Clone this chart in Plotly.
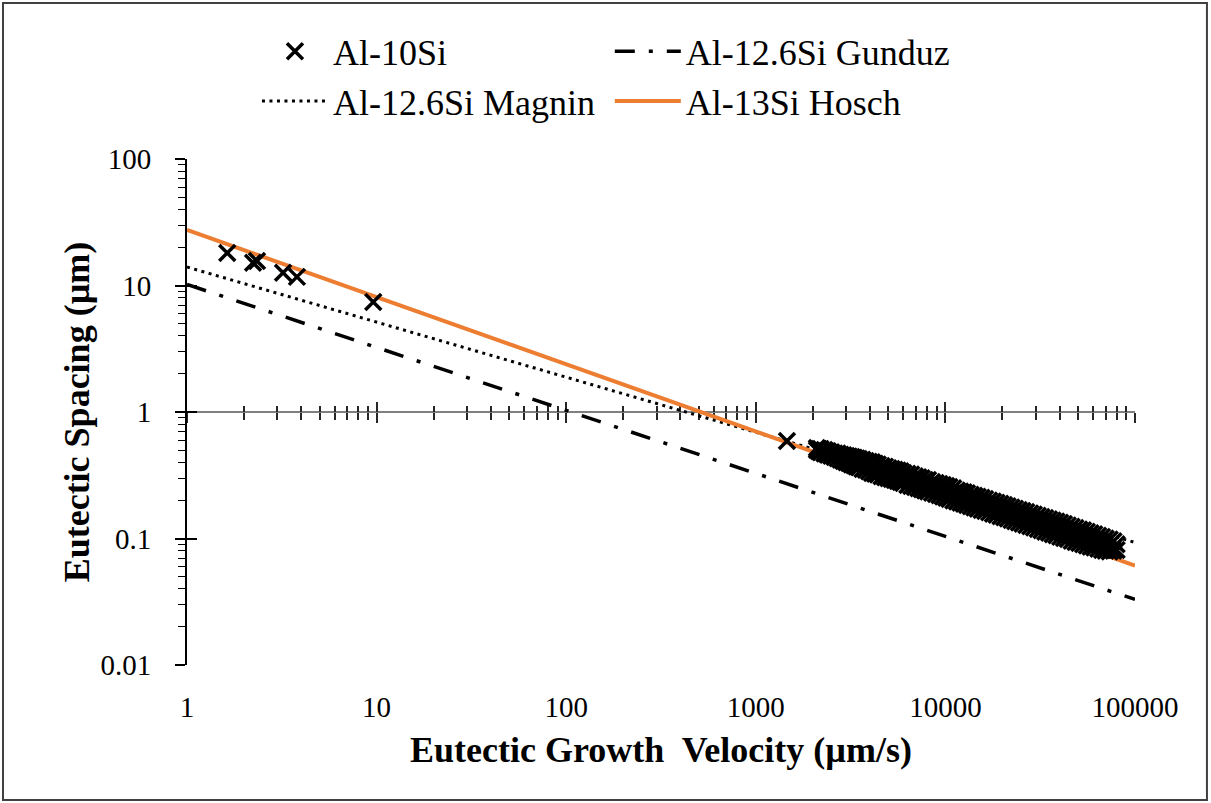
import plotly.graph_objects as go

# ---------------- data ----------------
# Al-10Si measured points (low-velocity region)
al10_v_low = [1.63, 2.23, 2.34, 3.21, 3.8, 9.6, 1460]
al10_lam_low = [18.1, 15.1, 15.6, 12.6, 11.7, 7.4, 0.59]

# Al-10Si measured points (high-velocity cloud)
al10_v_cloud = [2100, 2150, 2200, 2300, 2350, 2400, 2500, 2600, 2700, 2800,
                2900, 3000, 3100, 3200, 3300, 3400, 3500, 3650, 3800, 3950,
                4100, 4250, 4400, 4600, 4800, 5000, 5200, 5400, 5600, 5800,
                6000, 6300, 6600, 6900, 7200, 7500, 7800, 8100, 8500, 8900,
                9300, 9700, 10100, 10500, 11000, 11500, 12000, 12500, 13000, 13600,
                14200, 14800, 15500, 16200, 17000, 17800, 18600, 19500, 20400, 21300,
                22300, 23300, 24400, 25500, 26700, 28000, 29300, 30700, 32100, 33600,
                35200, 36800, 38500, 40300, 42200, 44200, 46300, 48500, 50800, 53200,
                55700, 58300, 61000, 64000, 67000, 70000, 73500, 77000, 80000]
al10_lam_cloud_upper = [0.52, 0.51, 0.51, 0.50, 0.49, 0.49, 0.48, 0.47, 0.47, 0.46,
                        0.455, 0.45, 0.445, 0.44, 0.435, 0.43, 0.425, 0.42, 0.41, 0.405,
                        0.40, 0.39, 0.385, 0.375, 0.37, 0.36, 0.355, 0.35, 0.345, 0.34,
                        0.33, 0.325, 0.32, 0.31, 0.305, 0.30, 0.29, 0.29, 0.28, 0.275,
                        0.27, 0.265, 0.26, 0.255, 0.25, 0.24, 0.235, 0.232, 0.228, 0.222,
                        0.218, 0.214, 0.21, 0.205, 0.20, 0.196, 0.192, 0.188, 0.184, 0.18,
                        0.176, 0.172, 0.168, 0.165, 0.162, 0.158, 0.155, 0.151, 0.148, 0.145,
                        0.142, 0.139, 0.136, 0.133, 0.130, 0.127, 0.124, 0.121, 0.118, 0.116,
                        0.113, 0.110, 0.108, 0.105, 0.103, 0.100, 0.098, 0.095, 0.090]
al10_lam_cloud_lower = [0.50, 0.49, 0.48, 0.47, 0.47, 0.46, 0.45, 0.44, 0.43, 0.42,
                        0.41, 0.40, 0.395, 0.385, 0.38, 0.37, 0.365, 0.355, 0.35, 0.34,
                        0.33, 0.325, 0.32, 0.31, 0.305, 0.30, 0.295, 0.29, 0.285, 0.28,
                        0.275, 0.265, 0.26, 0.255, 0.25, 0.245, 0.24, 0.235, 0.23, 0.225,
                        0.22, 0.215, 0.21, 0.205, 0.20, 0.196, 0.192, 0.188, 0.184, 0.18,
                        0.176, 0.172, 0.168, 0.165, 0.161, 0.157, 0.154, 0.150, 0.147, 0.144,
                        0.140, 0.137, 0.134, 0.131, 0.128, 0.125, 0.122, 0.119, 0.116, 0.113,
                        0.111, 0.108, 0.106, 0.103, 0.101, 0.099, 0.096, 0.094, 0.092, 0.090,
                        0.088, 0.086, 0.085, 0.083, 0.081, 0.080, 0.079, 0.080, 0.081]

# model lines (end points)
gunduz_v = [1, 100000]
gunduz_lam = [10.2, 0.033]
magnin_v = [1, 100000]
magnin_lam = [14.0, 0.093]
hosch_v = [1, 100000]
hosch_lam = [27.5, 0.061]

x_tick_vals = [1, 10, 100, 1000, 10000, 100000]
x_tick_text = ["1", "10", "100", "1000", "10000", "100000"]
y_tick_vals = [0.01, 0.1, 1, 10, 100]
y_tick_text = ["0.01", "0.1", "1", "10", "100"]

# ---------------- figure ----------------
FONT = "Liberation Serif"
fig = go.Figure()

fig.add_trace(go.Scatter(x=gunduz_v, y=gunduz_lam, mode="lines", name="Al-12.6Si Gunduz",
                         line=dict(color="black", width=3.5, dash="20px,14px,4px,14px"),
                         legend="legend2", legendrank=1))
fig.add_trace(go.Scatter(x=magnin_v, y=magnin_lam, mode="lines", name="Al-12.6Si Magnin",
                         line=dict(color="black", width=3, dash="3px,4.5px"),
                         legend="legend", legendrank=2))
fig.add_trace(go.Scatter(x=hosch_v, y=hosch_lam, mode="lines", name="Al-13Si Hosch",
                         line=dict(color="#ED7D31", width=4),
                         legend="legend2", legendrank=2))

al10_v = al10_v_low + al10_v_cloud + al10_v_cloud
al10_lam = al10_lam_low + al10_lam_cloud_upper + al10_lam_cloud_lower
fig.add_trace(go.Scatter(x=al10_v, y=al10_lam, mode="markers", name="Al-10Si",
                         marker=dict(symbol="x-thin", size=16, color="black",
                                     line=dict(color="black", width=3.5)),
                         legend="legend", legendrank=1))

# dummy traces to activate overlay axes
fig.add_trace(go.Scatter(x=[], y=[], xaxis="x2", yaxis="y", showlegend=False, hoverinfo="skip"))
fig.add_trace(go.Scatter(x=[], y=[], xaxis="x3", yaxis="y", showlegend=False, hoverinfo="skip"))
fig.add_trace(go.Scatter(x=[], y=[], xaxis="x", yaxis="y2", showlegend=False, hoverinfo="skip"))

tickfont = dict(family=FONT, size=29, color="black")
titlefont = dict(family=FONT, size=36, color="black")
legfont = dict(family=FONT, size=36, color="black")

fig.update_layout(
    width=1211, height=803,
    margin=dict(l=187, r=76, t=159, b=138),
    paper_bgcolor="white", plot_bgcolor="white",
    showlegend=True,
    xaxis=dict(type="log", range=[0, 5], showline=False, showgrid=False, zeroline=False,
               tickmode="array", tickvals=x_tick_vals, ticktext=x_tick_text,
               ticks="outside", ticklen=16, tickcolor="rgba(0,0,0,0)",
               tickfont=tickfont, automargin=False,
               title=dict(text="<b>Eutectic Growth  Velocity (µm/s)</b>", font=titlefont, standoff=15)),
    xaxis2=dict(type="log", range=[0, 5], overlaying="x", anchor="free", position=0.5,
                showline=True, linecolor="#7f7f7f", linewidth=2,
                tickmode="linear", tick0=0, dtick=1, ticks="outside", ticklen=10,
                tickwidth=1.5, tickcolor="#262626", showticklabels=False,
                minor=dict(ticks="outside", ticklen=7, dtick="D1", tickwidth=1.5, tickcolor="#262626"),
                showgrid=False, zeroline=False, layer="below traces"),
    xaxis3=dict(type="log", range=[0, 5], overlaying="x", anchor="free", position=0.5,
                showline=False,
                tickmode="linear", tick0=0, dtick=1, ticks="inside", ticklen=10,
                tickwidth=1.5, tickcolor="#262626", showticklabels=False,
                minor=dict(ticks="inside", ticklen=6, dtick="D1", tickwidth=1.5, tickcolor="#262626"),
                showgrid=False, zeroline=False, layer="below traces"),
    yaxis=dict(type="log", range=[-2, 2], showline=True, linecolor="black", linewidth=2,
               showgrid=False, zeroline=False,
               tickmode="array", tickvals=y_tick_vals, ticktext=y_tick_text,
               ticks="outside", ticklen=10, tickwidth=1.5, tickcolor="black",
               minor=dict(ticks="outside", ticklen=7, dtick="D1", tickwidth=1.3, tickcolor="black"),
               tickfont=tickfont, ticklabelstandoff=18, automargin=False,
               title=dict(text="<b>Eutectic Spacing (µm)</b>", font=titlefont, standoff=0)),
    yaxis2=dict(type="log", range=[-2, 2], overlaying="y", anchor="x", side="left",
                showline=False, tickmode="linear", tick0=0, dtick=1,
                ticks="inside", ticklen=10, tickwidth=1.5, tickcolor="black",
                showticklabels=False, showgrid=False, zeroline=False),
    legend=dict(x=0.0738, y=1.272, xanchor="left", yanchor="top", orientation="v",
                font=legfont, itemwidth=66, bgcolor="rgba(0,0,0,0)", tracegroupgap=0),
    legend2=dict(x=0.446, y=1.272, xanchor="left", yanchor="top", orientation="v",
                 font=legfont, itemwidth=66, bgcolor="rgba(0,0,0,0)", tracegroupgap=0),
    shapes=[dict(type="rect", xref="paper", yref="paper",
                 x0=-0.1941, x1=1.0759, y0=-0.2668, y1=1.3083,
                 line=dict(color="#404040", width=2), fillcolor="rgba(0,0,0,0)", layer="below")],
)

fig.write_html("out.html")
